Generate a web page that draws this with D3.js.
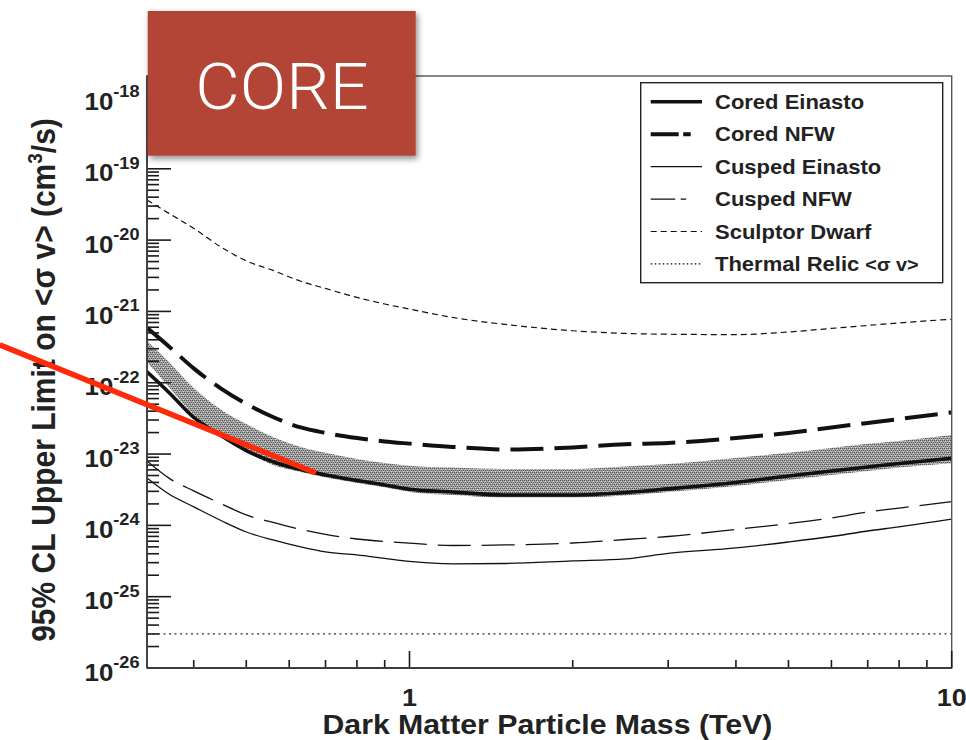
<!DOCTYPE html>
<html>
<head>
<meta charset="utf-8">
<script src="https://cdn.jsdelivr.net/npm/d3@7"></script>
<style>
  html, body { margin: 0; padding: 0; background: #fff; }
  svg { display: block; }
</style>
</head>
<body>
<script>
// Dark matter annihilation limits vs. particle mass (log-log)
const massTeV = [0.328, 0.36, 0.4, 0.45, 0.5, 0.56, 0.63, 0.7, 0.8, 0.9, 1.0, 1.2, 1.5, 2, 2.5, 3, 4, 5, 6, 7, 8, 10];

const coredEinasto = [1.42e-22, 7.31e-23, 3.26e-23, 1.80e-23, 1.12e-23, 7.8e-24, 6.05e-24, 5.09e-24, 4.27e-24, 3.69e-24, 3.21e-24, 2.94e-24, 2.67e-24, 2.67e-24, 2.89e-24, 3.25e-24, 4.00e-24, 4.93e-24, 5.79e-24, 6.59e-24, 7.38e-24, 8.73e-24];
const coredNFW = [5.88e-22, 3.23e-22, 1.59e-22, 8.19e-23, 5.05e-23, 3.31e-23, 2.36e-23, 1.98e-23, 1.68e-23, 1.50e-23, 1.40e-23, 1.26e-23, 1.16e-23, 1.24e-23, 1.37e-23, 1.43e-23, 1.68e-23, 1.98e-23, 2.36e-23, 2.73e-23, 3.10e-23, 3.83e-23];
const cuspedEinasto = [4.62e-24, 2.75e-24, 1.82e-24, 1.16e-24, 8.07e-25, 6.24e-25, 4.98e-25, 4.24e-25, 3.85e-25, 3.44e-25, 3.12e-25, 2.88e-25, 2.92e-25, 3.17e-25, 3.38e-25, 4.04e-25, 4.82e-25, 5.85e-25, 6.98e-25, 8.34e-25, 9.52e-25, 1.22e-24];
const cuspedNFW = [8.00e-24, 4.60e-24, 3.04e-24, 2.00e-24, 1.40e-24, 1.10e-24, 8.78e-25, 7.45e-25, 6.44e-25, 5.94e-25, 5.62e-25, 5.22e-25, 5.31e-25, 5.66e-25, 6.34e-25, 6.98e-25, 8.78e-25, 1.06e-24, 1.27e-24, 1.54e-24, 1.75e-24, 2.15e-24];
const sculptorDwarf = [3.66e-20, 2.37e-20, 1.46e-20, 7.91e-21, 5.11e-21, 3.76e-21, 2.65e-21, 2.10e-21, 1.57e-21, 1.27e-21, 1.08e-21, 8.24e-22, 6.58e-22, 5.36e-22, 4.91e-22, 4.79e-22, 4.73e-22, 5.15e-22, 5.78e-22, 6.36e-22, 6.90e-22, 7.78e-22];
// uncertainty band around the cored Einasto limit
const bandUpper = [3.86e-22, 1.96e-22, 8.45e-23, 4.16e-23, 2.64e-23, 1.74e-23, 1.26e-23, 1.04e-23, 8.53e-24, 7.50e-24, 6.87e-24, 6.48e-24, 6.18e-24, 6.18e-24, 6.70e-24, 7.26e-24, 8.81e-24, 1.04e-23, 1.22e-23, 1.39e-23, 1.53e-23, 1.85e-23];
const bandLower = [1.96e-22, 8.73e-23, 3.53e-23, 1.68e-23, 1.07e-23, 7.03e-24, 5.61e-24, 4.70e-24, 3.94e-24, 3.41e-24, 2.94e-24, 2.67e-24, 2.46e-24, 2.46e-24, 2.62e-24, 2.94e-24, 3.57e-24, 4.34e-24, 5.09e-24, 5.79e-24, 6.48e-24, 7.43e-24];
// thermal relic cross-section, flat in mass
const thermalMass = [0.328, 10];
const thermalRelic = [3e-26, 3e-26];
// highlighted red annotation segment (mass, cross-section)
const annotationMass = [0.1755, 0.672];
const annotationValue = [3.39e-22, 5.43e-24];

const xTickLabels = [{v: 1, t: "1"}, {v: 10, t: "10"}];
const yDecades = [-26, -25, -24, -23, -22, -21, -20, -19, -18];

const legendLabels = ["Cored Einasto", "Cored NFW", "Cusped Einasto", "Cusped NFW", "Sculptor Dwarf", "Thermal Relic "];

const W = 966, H = 740;
const SX = 1.1;           // horizontal text stretch
const FONT = "'Liberation Sans', Arial, Helvetica, sans-serif";

const svg = d3.select("body").append("svg").attr("width", W).attr("height", H);
const defs = svg.append("defs");

// fine stippled fill for the band
const pat = defs.append("pattern").attr("id", "stipple").attr("patternUnits", "userSpaceOnUse")
  .attr("width", 4).attr("height", 4);
pat.append("rect").attr("width", 4).attr("height", 4).attr("fill", "#a4a4a4");
[[0, 0], [2, 0], [1, 2], [3, 2]].forEach(([px, py]) => {
  pat.append("rect").attr("x", px).attr("y", py).attr("width", 1).attr("height", 1).attr("fill", "#555555");
});
[[1, 1], [3, 3]].forEach(([px, py]) => {
  pat.append("rect").attr("x", px).attr("y", py).attr("width", 1).attr("height", 1).attr("fill", "#dcdcdc");
});

const shadow = defs.append("filter").attr("id", "shadow").attr("x", "-10%").attr("y", "-10%").attr("width", "130%").attr("height", "140%");
shadow.append("feDropShadow").attr("dx", 2).attr("dy", 3).attr("stdDeviation", 3).attr("flood-color", "#000").attr("flood-opacity", 0.45);

const plot = {left: 147, right: 951.7, top: 76, bottom: 668};
const x = d3.scaleLog().domain([0.328, 10]).range([plot.left, plot.right]);
const y = d3.scaleLog().domain([1e-26, 2e-18]).range([plot.bottom, plot.top]);

defs.append("clipPath").attr("id", "plotclip").append("rect")
  .attr("x", plot.left).attr("y", plot.top)
  .attr("width", plot.right - plot.left).attr("height", plot.bottom - plot.top);

const g = svg.append("g").attr("clip-path", "url(#plotclip)");

const area = d3.area().x(d => x(d.m)).y0(d => y(d.lo)).y1(d => y(d.hi)).curve(d3.curveMonotoneX);
const line = d3.line().x(d => x(d.m)).y(d => y(d.v)).curve(d3.curveMonotoneX);

const pts = vals => massTeV.map((m, i) => ({m, v: vals[i]}));

g.append("path")
  .datum(massTeV.map((m, i) => ({m, lo: bandLower[i], hi: bandUpper[i]})))
  .attr("d", area).attr("fill", "url(#stipple)").attr("stroke", "none");

const series = [
  {vals: sculptorDwarf, w: 1.2, dash: "6,4"},
  {vals: cuspedEinasto, w: 1.3, dash: null},
  {vals: cuspedNFW, w: 1.3, dash: "33,11"},
  {vals: coredNFW, w: 4, dash: "33,11"},
  {vals: coredEinasto, w: 3.6, dash: null}
];
series.forEach(s => {
  g.append("path").datum(pts(s.vals)).attr("d", line)
    .attr("fill", "none").attr("stroke", "#111").attr("stroke-width", s.w)
    .attr("stroke-dasharray", s.dash);
});
g.append("path").datum(thermalMass.map((m, i) => ({m, v: thermalRelic[i]})))
  .attr("d", d3.line().x(d => x(d.m)).y(d => y(d.v)))
  .attr("fill", "none").attr("stroke", "#333").attr("stroke-width", 1.2).attr("stroke-dasharray", "2,3.5");

// frame
const axisColor = "#3c3c3c";
svg.append("rect").attr("x", plot.left).attr("y", plot.top)
  .attr("width", plot.right - plot.left).attr("height", plot.bottom - plot.top)
  .attr("fill", "none").attr("stroke", "#555").attr("stroke-width", 1.4);

// y ticks
y.ticks().forEach(v => {
  const major = Math.abs(Math.log10(v) - Math.round(Math.log10(v))) < 1e-9;
  svg.append("line").attr("x1", plot.left).attr("x2", plot.left + (major ? 24 : 12))
    .attr("y1", y(v)).attr("y2", y(v)).attr("stroke", "#1a1a1a").attr("stroke-width", 1.6);
});
// x ticks
x.ticks().forEach(v => {
  const major = Math.abs(Math.log10(v) - Math.round(Math.log10(v))) < 1e-9;
  svg.append("line").attr("x1", x(v)).attr("x2", x(v))
    .attr("y1", plot.bottom).attr("y2", plot.bottom - (major ? 17 : 8))
    .attr("stroke", "#1a1a1a").attr("stroke-width", 1.6);
});
svg.append("line").attr("x1", plot.left).attr("x2", plot.left).attr("y1", plot.top).attr("y2", plot.bottom)
  .attr("stroke", axisColor).attr("stroke-width", 1.8);
svg.append("line").attr("x1", plot.left).attr("x2", plot.right).attr("y1", plot.bottom).attr("y2", plot.bottom)
  .attr("stroke", axisColor).attr("stroke-width", 1.8);

// stretched text helper
function stext(parent, px, py, anchor, extra) {
  const gg = parent.append("g").attr("transform", `translate(${px},${py}) scale(${SX},1)` + (extra || ""));
  return gg.append("text").attr("x", 0).attr("y", 0).attr("text-anchor", anchor)
    .attr("font-family", FONT).attr("font-weight", "bold").attr("fill", "#222");
}

// y tick labels
yDecades.forEach(d => {
  const t = stext(svg, plot.left - 7.5, y(Math.pow(10, d)) + 12.5, "end").attr("font-size", 23.5);
  t.append("tspan").text("10");
  t.append("tspan").attr("font-size", 16.5).attr("dy", -12.5).text(String(d));
});
// x tick labels
xTickLabels.forEach(d => {
  stext(svg, x(d.v), 706, "middle").attr("font-size", 24.5).text(d.t);
});

// axis titles
stext(svg, (plot.left + plot.right) / 2 - 2, 734, "middle").attr("font-size", 27.5)
  .text("Dark Matter Particle Mass (TeV)");
{
  const t = stext(svg, 55, (plot.top + plot.bottom) / 2 + 8, "middle", " rotate(-90)").attr("font-size", 30);
  t.append("tspan").text("95% CL Upper Limit on <σ v> (cm");
  t.append("tspan").attr("font-size", 19).attr("dy", -12).text("3");
  t.append("tspan").attr("dy", 12).text("/s)");
}

// legend
const lg = svg.append("g");
lg.append("rect").attr("x", 640.7).attr("y", 82.7).attr("width", 302).attr("height", 200)
  .attr("fill", "#fff").attr("stroke", "#222").attr("stroke-width", 1.4);
const legendStyles = [
  {w: 3.6, dash: null},
  {w: 4, dash: "28,4.5,7.5,100"},
  {w: 1.3, dash: null},
  {w: 1.3, dash: "24.5,5.5,5.5,100"},
  {w: 1.2, dash: "6,4"},
  {w: 1.2, dash: "1.6,2.4"}
];
legendLabels.forEach((lab, i) => {
  const cy = 101.7 + i * 32.45;
  lg.append("line").attr("x1", 650.7).attr("x2", 702).attr("y1", cy).attr("y2", cy)
    .attr("stroke", "#111").attr("stroke-width", legendStyles[i].w)
    .attr("stroke-dasharray", legendStyles[i].dash);
  const t = stext(lg, 715, cy + 7, "start").attr("font-size", 20);
  t.append("tspan").text(lab);
  if (i === 5) t.append("tspan").attr("font-size", 18).text("<σ v>");
});

// red highlight segment
svg.append("path")
  .datum(annotationMass.map((m, i) => ({m, v: annotationValue[i]})))
  .attr("d", d3.line().x(d => x(d.m)).y(d => y(d.v)))
  .attr("stroke", "#ff2a0a").attr("stroke-width", 5.5).attr("fill", "none");

// title card
svg.append("rect").attr("x", 147.7).attr("y", 11).attr("width", 268).attr("height", 144.7)
  .attr("fill", "#b24536").attr("filter", "url(#shadow)");
svg.append("g").attr("transform", "translate(282,108.5) scale(1.07,1)")
  .append("text").attr("x", 0).attr("y", 0).attr("text-anchor", "middle")
  .attr("font-family", "Roboto, 'Open Sans', Lato, sans-serif").attr("font-weight", 300)
  .attr("font-size", 64).attr("fill", "#fff").text("CORE");
</script>
</body>
</html>
